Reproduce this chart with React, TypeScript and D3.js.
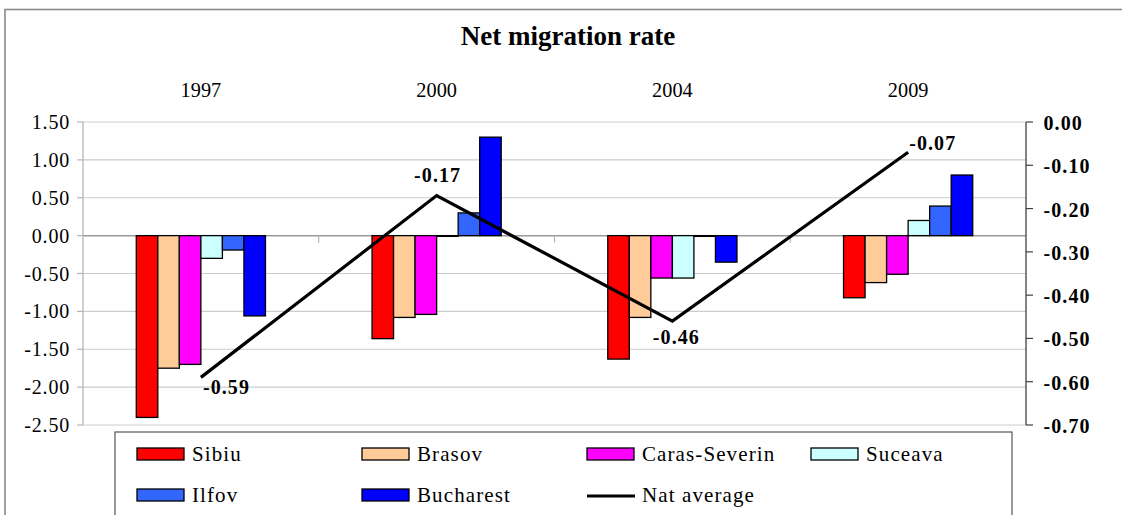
import React from 'react';
import * as d3 from 'd3';

// Categories and series values
const years = ['1997', '2000', '2004', '2009'];
const seriesNames = ['Sibiu', 'Brasov', 'Caras-Severin', 'Suceava', 'Ilfov', 'Bucharest'];
const seriesColors = ['#ff0000', '#ffcc99', '#ff00ff', '#ccffff', '#3366ff', '#0000ff'];

const sibiu = [-2.4, -1.36, -1.63, -0.82];
const brasov = [-1.75, -1.08, -1.08, -0.62];
const carasSeverin = [-1.7, -1.04, -0.56, -0.51];
const suceava = [-0.3, -0.01, -0.56, 0.2];
const ilfov = [-0.19, 0.3, -0.01, 0.39];
const bucharest = [-1.06, 1.3, -0.35, 0.8];
const natAverage = [-0.59, -0.17, -0.46, -0.07];

const leftTicks = [1.5, 1.0, 0.5, 0, -0.5, -1.0, -1.5, -2.0, -2.5];
const rightTicks = [0, -0.1, -0.2, -0.3, -0.4, -0.5, -0.6, -0.7];

const seriesValues = [sibiu, brasov, carasSeverin, suceava, ilfov, bucharest];

// Where each "Nat average" value label sits relative to its point
const natLabelPlacement = [
  { anchor: 'start', dx: 2, dy: 17 },
  { anchor: 'middle', dx: 1, dy: -14 },
  { anchor: 'middle', dx: 4, dy: 23 },
  { anchor: 'start', dx: 1, dy: -2 },
];

const W = 1122;
const H = 515;
const plot = { left: 83, right: 1026, top: 122, bottom: 425 };
const serif = '"Liberation Serif", "Times New Roman", Times, serif';

// two decimals with a plain hyphen for negatives
const fmt = (v: number) => d3.format('.2f')(v).replace('\u2212', '-');

export default function App() {
  const x = d3.scaleBand<string>().domain(years).range([plot.left, plot.right]).padding(0);
  const band = x.bandwidth();
  const groupWidth = band * 0.548;
  const xInner = d3
    .scaleBand<string>()
    .domain(seriesNames)
    .range([0, groupWidth])
    .padding(0);

  const yLeft = d3.scaleLinear().domain([-2.5, 1.5]).range([plot.bottom, plot.top]);
  const yRight = d3.scaleLinear().domain([-0.7, 0]).range([plot.bottom, plot.top]);

  const center = (c: string) => (x(c) as number) + band / 2;

  const line = d3
    .line<number>()
    .x((_, i) => center(years[i]))
    .y((d) => yRight(d));

  const zeroY = yLeft(0);

  const legendCols = [137, 362, 587, 811];
  const legendRows = [448, 489];
  const legendItems = [
    ...seriesNames.map((n, i) => ({ name: n, color: seriesColors[i], kind: 'bar' })),
    { name: 'Nat average', color: '#000', kind: 'line' },
  ];

  return (
    <svg
      width={W}
      height={H}
      viewBox={`0 0 ${W} ${H}`}
      style={{ position: 'absolute', left: 0, top: 0, background: '#fff' }}
    >
      <rect x={0} y={0} width={W} height={H} fill="#fff" />
      {/* chart frame */}
      <rect x={5} y={9.5} width={W + 20} height={H + 20} fill="none" stroke="#8a8a8a" strokeWidth={1.6} />

      {/* title */}
      <text
        x={568}
        y={45}
        textAnchor="middle"
        fontFamily={serif}
        fontWeight="bold"
        fontSize={27}
        fill="#000"
      >
        Net migration rate
      </text>

      {/* category labels */}
      {years.map((yr) => (
        <text
          key={yr}
          x={center(yr)}
          y={96.5}
          textAnchor="middle"
          fontFamily={serif}
          fontSize={20.3}
          fill="#000"
        >
          {yr}
        </text>
      ))}

      {/* gridlines */}
      {leftTicks.map((t) => (
        <line
          key={'g' + t}
          x1={plot.left}
          x2={plot.right}
          y1={yLeft(t)}
          y2={yLeft(t)}
          stroke={t === 0 ? '#9a9a9a' : '#cdcdcd'}
          strokeWidth={t === 0 ? 1.5 : 1.2}
        />
      ))}

      {/* left axis */}
      <line x1={plot.left} x2={plot.left} y1={plot.top} y2={plot.bottom} stroke="#b5b5b5" strokeWidth={1.3} />
      {leftTicks.map((t) => (
        <g key={'l' + t}>
          <line x1={plot.left - 6} x2={plot.left} y1={yLeft(t)} y2={yLeft(t)} stroke="#b5b5b5" strokeWidth={1.2} />
          <text
            x={70}
            y={yLeft(t) + 7}
            textAnchor="end"
            fontFamily={serif}
            fontSize={20}
            style={{ letterSpacing: '0.8px' }}
            fill="#000"
          >
            {fmt(t)}
          </text>
        </g>
      ))}

      {/* category tick marks on the zero line */}
      {years.slice(1).map((yr) => (
        <line
          key={'t' + yr}
          x1={x(yr) as number}
          x2={x(yr) as number}
          y1={zeroY}
          y2={zeroY + 7}
          stroke="#b5b5b5"
          strokeWidth={1.2}
        />
      ))}

      {/* bars */}
      {years.map((yr, ci) => {
        const g0 = center(yr) - groupWidth / 2;
        return (
          <g key={'b' + yr}>
            {seriesNames.map((s, si) => {
              const v = seriesValues[si][ci];
              const y0 = yLeft(Math.max(0, v));
              const y1 = yLeft(Math.min(0, v));
              return (
                <rect
                  key={s}
                  x={g0 + (xInner(s) as number)}
                  y={y0}
                  width={xInner.bandwidth()}
                  height={Math.max(0.01, y1 - y0)}
                  fill={seriesColors[si]}
                  stroke="#000"
                  strokeWidth={1.3}
                />
              );
            })}
          </g>
        );
      })}

      {/* national average line */}
      <path d={line(natAverage) as string} fill="none" stroke="#000" strokeWidth={3.2} />
      {natAverage.map((v, i) => {
        const p = natLabelPlacement[i];
        return (
          <text
            key={'n' + i}
            x={center(years[i]) + p.dx}
            y={yRight(v) + p.dy}
            textAnchor={p.anchor as any}
            fontFamily={serif}
            fontWeight="bold"
            fontSize={20}
            style={{ letterSpacing: '1.1px' }}
            fill="#000"
          >
            {fmt(v)}
          </text>
        );
      })}

      {/* right axis */}
      <line x1={plot.right} x2={plot.right} y1={plot.top} y2={plot.bottom} stroke="#404040" strokeWidth={1.3} />
      {rightTicks.map((t) => (
        <g key={'r' + t}>
          <line x1={plot.right} x2={plot.right + 7} y1={yRight(t)} y2={yRight(t)} stroke="#404040" strokeWidth={1.2} />
          <text
            x={1043.5}
            y={yRight(t) + 8}
            fontFamily={serif}
            fontWeight="bold"
            fontSize={20}
            style={{ letterSpacing: '1.1px' }}
            fill="#000"
          >
            {fmt(t)}
          </text>
        </g>
      ))}

      {/* legend */}
      <rect x={115} y={432} width={897} height={120} fill="#fff" stroke="#555" strokeWidth={1.2} />
      {legendItems.map((it, i) => {
        const lx = legendCols[i % 4];
        const ly = legendRows[Math.floor(i / 4)];
        return (
          <g key={'lg' + it.name}>
            {it.kind === 'bar' ? (
              <rect x={lx} y={ly} width={47} height={12} fill={it.color} stroke="#000" strokeWidth={1.3} />
            ) : (
              <line x1={lx} x2={lx + 48} y1={ly + 7} y2={ly + 7} stroke="#000" strokeWidth={3} />
            )}
            <text
              x={lx + 55}
              y={ly + 12.5}
              fontFamily={serif}
              fontSize={21}
              style={{ letterSpacing: '1.1px' }}
              fill="#000"
            >
              {it.name}
            </text>
          </g>
        );
      })}
    </svg>
  );
}
